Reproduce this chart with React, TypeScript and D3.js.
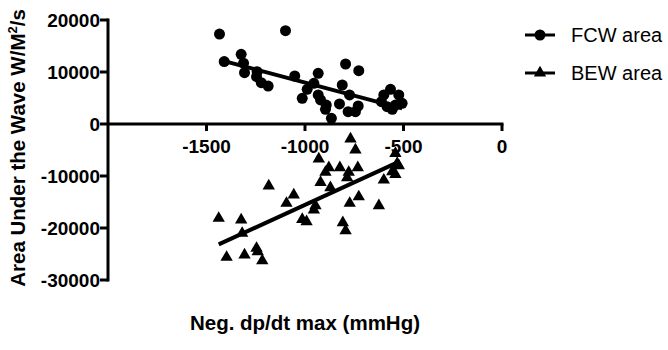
import React from "react";
import * as d3 from "d3";

const fcwX = [-1434, -1099, -1410, -1324, -1312, -1307, -1243, -1246, -1222, -1187,
  -1052, -933, -794, -727, -955, -989, -1014, -933, -921, -892, -896, -866,
  -811, -774, -825, -781, -744, -730,
  -566, -600, -524, -612, -541, -583, -507, -557];
const fcwY = [17300, 17950, 12000, 13400, 11700, 9870, 10060, 9100, 7940, 7300,
  9230, 9740, 11540, 10250, 7820, 6670, 4940, 5580, 4620, 3650, 2820, 1100,
  7500, 5580, 3850, 2370, 2370, 3460,
  6670, 5580, 5580, 4300, 3650, 3330, 3980, 2820];

const bewX = [-769, -744, -930, -879, -896, -823, -778, -732, -786, -921, -871,
  -541, -532, -524, -557, -541, -600, -727, -773, -625, -947, -955,
  -1184, -1057, -1094, -1438, -1324, -1014, -992, -1319, -1398, -1307, -1246, -1240, -1217,
  -808, -794];
const bewY = [-2880, -5000, -6730, -8400, -9290, -8400, -9290, -8400, -10320, -11220, -12250,
  -5640, -7560, -8020, -9170, -9680, -10770, -14000, -15250, -15710, -15710, -16540,
  -11920, -13650, -15250, -18130, -18460, -18330, -18780, -21020, -25630, -25190, -23900, -24560, -26290,
  -18980, -20520];

const xTicks = [-1500, -1000, -500, 0];
const yTicks = [20000, 10000, 0, -10000, -20000, -30000];
const seriesNames = ["FCW area", "BEW area"];

function fit(xs: number[], ys: number[]) {
  const mx = d3.mean(xs)!;
  const my = d3.mean(ys)!;
  let num = 0, den = 0;
  xs.forEach((x, i) => { num += (x - mx) * (ys[i] - my); den += (x - mx) ** 2; });
  const b = num / den;
  const a = my - b * mx;
  const x0 = d3.min(xs)!, x1 = d3.max(xs)!;
  return [[x0, a + b * x0], [x1, a + b * x1]];
}

const FONT = "'Liberation Sans', Arial, Helvetica, sans-serif";

export default function App() {
  const W = 668, H = 350;
  const x = d3.scaleLinear().domain([-2000, 0]).range([108, 502]);
  const y = d3.scaleLinear().domain([-30000, 20000]).range([280, 20]);
  const tri = d3.symbol().type(d3.symbolTriangle).size(66)()!;
  const circ = d3.symbol().type(d3.symbolCircle).size(95)()!;
  const line = d3.line<number[]>().x(d => x(d[0])).y(d => y(d[1]));
  const fcwFit = fit(fcwX, fcwY);
  const bewFit = fit(bewX, bewY);

  return (
    <svg width={W} height={H} style={{ position: "absolute", left: 0, top: 0, background: "#fff" }}
      fontFamily={FONT}>
      {/* y axis */}
      <line x1={x(-2000)} x2={x(-2000)} y1={y(20000) - 1.5} y2={y(-30000) + 1.5} stroke="#000" strokeWidth={3} />
      {yTicks.map(t => (
        <g key={t}>
          <line x1={x(-2000) - 8} x2={x(-2000)} y1={y(t)} y2={y(t)} stroke="#000" strokeWidth={3} />
          <text x={x(-2000) - 8} y={y(t)} dy="0.35em" textAnchor="end" fontSize={19} fontWeight="bold">{t}</text>
        </g>
      ))}
      {/* x axis */}
      <line x1={x(-2000)} x2={x(0) + 1.5} y1={y(0)} y2={y(0)} stroke="#000" strokeWidth={3} />
      {xTicks.map(t => (
        <g key={t}>
          <line x1={x(t)} x2={x(t)} y1={y(0)} y2={y(0) + 7} stroke="#000" strokeWidth={3} />
          <text x={x(t)} y={y(0) + 22} dy="0.35em" textAnchor="middle" fontSize={19} fontWeight="bold">{t}</text>
        </g>
      ))}
      {/* fits */}
      <path d={line(fcwFit)!} stroke="#000" strokeWidth={4} fill="none" />
      <path d={line(bewFit)!} stroke="#000" strokeWidth={4} fill="none" />
      {/* points */}
      {fcwX.map((v, i) => (
        <path key={"c" + i} d={circ} transform={`translate(${x(v)},${y(fcwY[i])})`} fill="#000" />
      ))}
      {bewX.map((v, i) => (
        <path key={"t" + i} d={tri} transform={`translate(${x(v)},${y(bewY[i])})`} fill="#000" />
      ))}
      {/* axis titles */}
      <text transform={`translate(25,148) rotate(-90)`} textAnchor="middle" fontSize={20.5} fontWeight="bold">
        Area Under the Wave W/M<tspan dy="-8" fontSize={13}>2</tspan><tspan dy="8">/s</tspan>
      </text>
      <text x={305} y={330} textAnchor="middle" fontSize={20.5} fontWeight="bold">Neg. dp/dt max (mmHg)</text>
      {/* legend */}
      {seriesNames.map((n, i) => {
        const ly = 35 + i * 38;
        return (
          <g key={n}>
            <line x1={525} x2={555} y1={ly} y2={ly} stroke="#000" strokeWidth={3} />
            <path d={i === 0 ? circ : tri} transform={`translate(540,${ly})`} fill="#000" />
            <text x={571} y={ly} dy="0.35em" fontSize={20}>{n}</text>
          </g>
        );
      })}
    </svg>
  );
}
